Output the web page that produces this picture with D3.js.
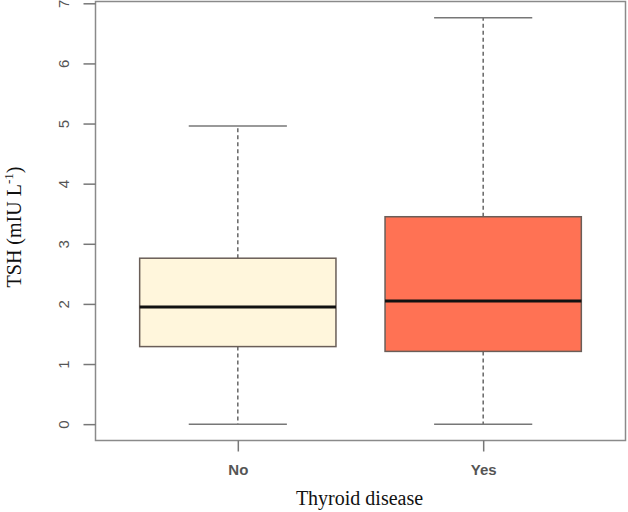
<!DOCTYPE html>
<html>
<head>
<meta charset="utf-8">
<script src="https://cdn.jsdelivr.net/npm/d3@7"></script>
<style>
html,body{margin:0;padding:0;background:#fff;}
svg{display:block;}
</style>
</head>
<body>
<svg id="chart" width="628" height="512"></svg>
<script>
// Data
const categories = ["No", "Yes"];
const whiskerLow = [0, 0];
const q1 = [1.29, 1.21];
const medians = [1.95, 2.05];
const q3 = [2.76, 3.45];
const whiskerHigh = [4.96, 6.76];
const fills = ["#FFF6DC", "#FF7254"];
const yTicks = [0, 1, 2, 3, 4, 5, 6, 7];
const xTitle = "Thyroid disease";

(function () {
const svg = d3.select("#chart");
const pLeft = 95.5, pRight = 625.5, pTop = 1.5, pBottom = 440.5;

const x = d3.scaleLinear().domain([0.42, 2.58]).range([pLeft, pRight]);
const y = d3.scaleLinear().domain([-0.272, 7.03]).range([pBottom, pTop]);

const boxHalf = 0.4, capHalf = 0.2;

const g = svg.append("g");

categories.forEach((c, i) => {
  const cx = x(i + 1);
  // whiskers dashed
  g.append("line").attr("x1", cx).attr("x2", cx).attr("y1", y(q3[i])).attr("y2", y(whiskerHigh[i]))
    .attr("stroke", "#666").attr("stroke-width", 1.5).attr("stroke-dasharray", "4,3");
  g.append("line").attr("x1", cx).attr("x2", cx).attr("y1", y(q1[i])).attr("y2", y(whiskerLow[i]))
    .attr("stroke", "#666").attr("stroke-width", 1.5).attr("stroke-dasharray", "4,3");
  // caps
  [whiskerHigh[i], whiskerLow[i]].forEach(v => {
    g.append("line").attr("x1", x(i + 1 - capHalf)).attr("x2", x(i + 1 + capHalf))
      .attr("y1", y(v)).attr("y2", y(v)).attr("stroke", "#777").attr("stroke-width", 1.5);
  });
  // box
  g.append("rect").attr("x", x(i + 1 - boxHalf)).attr("width", x(i + 1 + boxHalf) - x(i + 1 - boxHalf))
    .attr("y", y(q3[i])).attr("height", y(q1[i]) - y(q3[i]))
    .attr("fill", fills[i]).attr("stroke", "#6a5e58").attr("stroke-width", 1.5);
  // median
  g.append("line").attr("x1", x(i + 1 - boxHalf)).attr("x2", x(i + 1 + boxHalf))
    .attr("y1", y(medians[i])).attr("y2", y(medians[i])).attr("stroke", "#111").attr("stroke-width", 3);
});

// frame
svg.append("rect").attr("x", pLeft).attr("y", pTop).attr("width", pRight - pLeft).attr("height", pBottom - pTop)
  .attr("fill", "none").attr("stroke", "#8a8a8a").attr("stroke-width", 1.5);

// y axis
const yAxis = svg.append("g").attr("transform", `translate(${pLeft},0)`)
  .call(d3.axisLeft(y).tickValues(yTicks).tickSize(12).tickPadding(0).tickFormat(d3.format("d")));
yAxis.select(".domain").remove();
yAxis.selectAll(".tick line").attr("stroke", "#777").attr("stroke-width", 1.5);
yAxis.selectAll(".tick text")
  .attr("transform", "rotate(-90)")
  .attr("x", 0).attr("y", -30).attr("dy", 0)
  .attr("text-anchor", "middle").attr("dominant-baseline", "middle")
  .style("font-family", "'Liberation Sans', Arial, sans-serif").style("font-size", "15px").attr("fill", "#555");

// x axis
const xAxis = svg.append("g").attr("transform", `translate(0,${pBottom})`)
  .call(d3.axisBottom(x).tickValues([1, 2]).tickSize(11).tickPadding(13).tickFormat((d) => categories[d - 1]));
xAxis.select(".domain").remove();
xAxis.selectAll(".tick line").attr("stroke", "#777").attr("stroke-width", 1.5);
xAxis.selectAll(".tick text")
  .style("font-family", "'Liberation Sans', Arial, sans-serif").style("font-size", "15px")
  .style("font-weight", "bold").attr("fill", "#555");

// axis titles
svg.append("text").attr("x", (pLeft + pRight) / 2 - 1).attr("y", 505).attr("text-anchor", "middle")
  .style("font-family", "'Liberation Serif', 'Times New Roman', serif").style("font-size", "20px")
  .attr("fill", "#111").text(xTitle);

const yt = svg.append("text").attr("transform", "translate(21,227) rotate(-90)").attr("text-anchor", "middle")
  .style("font-family", "'Liberation Serif', 'Times New Roman', serif").style("font-size", "20px").attr("fill", "#111");
yt.append("tspan").text("TSH (mIU L");
yt.append("tspan").attr("dy", -8).style("font-size", "13px").text("-1");
yt.append("tspan").attr("dy", 8).text(")");
})();
</script>
</body>
</html>
